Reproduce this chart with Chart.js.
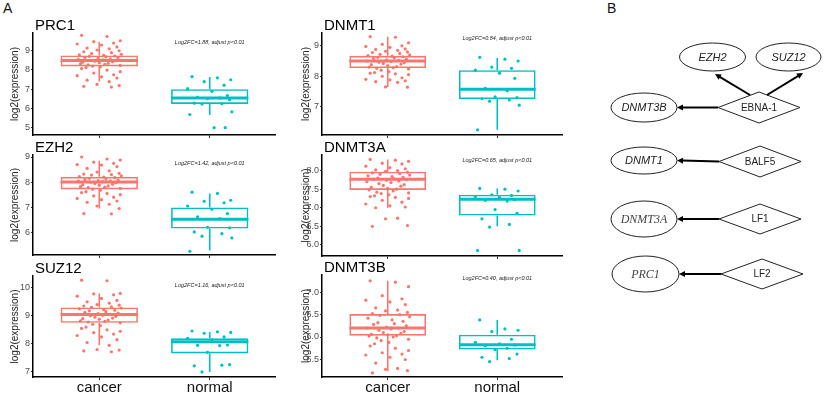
<!DOCTYPE html>
<html>
<head>
<meta charset="utf-8">
<script src="https://cdn.jsdelivr.net/npm/chart.js@4.4.0/dist/chart.umd.min.js"></script>
<style>
  body { margin: 0; background: #fff; width: 824px; height: 396px; overflow: hidden; position: relative; font-family: "Liberation Sans", Arial, sans-serif; }
  canvas { position: absolute; }
  .panel-label { position: absolute; font-size: 14px; line-height: 14px; color: #111; }
</style>
</head>
<body>
<div class="panel-label" style="left:3px;top:1px">A</div>
<div class="panel-label" style="left:607px;top:1px">B</div>
<script>
const groups = ['cancer', 'normal'];
const genes = ['PRC1', 'DNMT1', 'EZH2', 'DNMT3A', 'SUZ12', 'DNMT3B'];
const log2FC = ['1.88', '0.84', '1.42', '0.65', '1.16', '0.40'];

// box stats: [lower whisker, Q1, median, Q3, upper whisker]
const prc1CancerBox = [7.39, 8.17, 8.48, 8.74, 9.45];
const prc1NormalBox = [5.66, 6.23, 6.53, 6.99, 7.62];
const dnmt1CancerBox = [7.65, 8.27, 8.5, 8.67, 9.3];
const dnmt1NormalBox = [6.24, 7.25, 7.57, 8.2, 8.6];
const ezh2CancerBox = [6.95, 7.71, 8.01, 8.21, 8.85];
const ezh2NormalBox = [5.28, 6.15, 6.52, 6.99, 7.55];
const dnmt3aCancerBox = [7.0, 7.48, 7.77, 7.97, 8.3];
const dnmt3aNormalBox = [6.5, 6.79, 7.23, 7.35, 7.52];
const suz12CancerBox = [7.95, 8.75, 9.05, 9.3, 9.8];
const suz12NormalBox = [7.0, 7.66, 8.08, 8.2, 8.42];
const dnmt3bCancerBox = [5.24, 6.03, 6.2, 6.51, 7.25];
const dnmt3bNormalBox = [5.48, 5.72, 5.83, 6.05, 6.38];

// individual samples
const prc1Cancer = [9.78, 9.72, 9.5, 9.45, 9.38, 9.33, 9.28, 9.18, 9.12, 9.08, 9.02, 8.98, 8.93, 8.88, 8.84, 8.8, 8.77, 8.74, 8.71, 8.69, 8.66, 8.63, 8.61, 8.59, 8.56, 8.53, 8.51, 8.49, 8.47, 8.44, 8.41, 8.39, 8.36, 8.33, 8.31, 8.28, 8.25, 8.22, 8.19, 8.15, 8.11, 8.06, 7.98, 7.9, 7.83, 7.74, 7.69, 7.63, 7.57, 7.46, 7.38, 7.24, 7.18, 7.14, 7.1];
const prc1Normal = [7.64, 7.58, 7.48, 7.38, 7.2, 7.02, 6.88, 6.66, 6.57, 6.54, 6.5, 6.45, 6.27, 6.24, 6.22, 5.82, 5.68, 5.0, 5.0];
const dnmt1Cancer = [9.3, 9.28, 9.1, 9.05, 9.0, 8.98, 8.95, 8.9, 8.88, 8.85, 8.82, 8.8, 8.78, 8.75, 8.72, 8.7, 8.68, 8.66, 8.64, 8.62, 8.6, 8.58, 8.56, 8.54, 8.52, 8.5, 8.48, 8.46, 8.44, 8.42, 8.4, 8.38, 8.35, 8.32, 8.3, 8.28, 8.26, 8.24, 8.2, 8.15, 8.12, 8.1, 8.08, 8.05, 8.0, 7.95, 7.9, 7.88, 7.85, 7.82, 7.8, 7.65, 7.64];
const dnmt1Normal = [8.62, 8.56, 8.5, 8.3, 8.26, 8.2, 8.1, 7.93, 7.6, 7.52, 7.32, 7.3, 7.26, 7.22, 7.18, 7.05, 6.24];
const ezh2Cancer = [9.0, 8.92, 8.88, 8.8, 8.75, 8.7, 8.68, 8.62, 8.55, 8.45, 8.4, 8.35, 8.32, 8.3, 8.28, 8.25, 8.22, 8.2, 8.18, 8.15, 8.12, 8.1, 8.08, 8.06, 8.05, 8.04, 8.02, 8.0, 7.98, 7.95, 7.92, 7.9, 7.88, 7.85, 7.82, 7.8, 7.78, 7.75, 7.72, 7.68, 7.62, 7.58, 7.55, 7.5, 7.45, 7.4, 7.35, 7.3, 7.25, 7.2, 7.12, 7.05, 6.95, 6.75, 6.74];
const ezh2Normal = [7.6, 7.55, 7.28, 7.24, 7.18, 7.05, 6.92, 6.75, 6.62, 6.55, 6.2, 6.18, 6.02, 5.95, 5.85, 5.78, 5.25];
const dnmt3aCancer = [8.3, 8.28, 8.25, 8.2, 8.18, 8.12, 8.08, 8.05, 8.02, 8.0, 7.98, 7.96, 7.94, 7.92, 7.9, 7.88, 7.86, 7.84, 7.82, 7.8, 7.78, 7.77, 7.76, 7.74, 7.72, 7.7, 7.68, 7.65, 7.62, 7.6, 7.58, 7.55, 7.52, 7.5, 7.48, 7.45, 7.42, 7.4, 7.38, 7.35, 7.32, 7.3, 7.28, 7.25, 7.2, 7.15, 7.1, 7.05, 7.02, 7.0, 6.72, 6.7, 6.52, 6.5];
const dnmt3aNormal = [7.52, 7.5, 7.45, 7.35, 7.33, 7.3, 7.28, 7.22, 7.2, 7.18, 6.95, 6.85, 6.7, 6.55, 6.48, 5.85, 5.85];
const suz12Cancer = [10.27, 10.25, 9.8, 9.78, 9.75, 9.7, 9.62, 9.55, 9.5, 9.45, 9.4, 9.38, 9.35, 9.32, 9.3, 9.28, 9.25, 9.22, 9.2, 9.18, 9.15, 9.12, 9.1, 9.08, 9.05, 9.05, 9.02, 9.0, 8.98, 8.95, 8.92, 8.9, 8.88, 8.85, 8.82, 8.8, 8.78, 8.75, 8.7, 8.65, 8.6, 8.55, 8.5, 8.45, 8.4, 8.35, 8.3, 8.25, 8.15, 8.05, 7.95, 7.8, 7.78, 7.75, 7.72];
const suz12Normal = [8.46, 8.43, 8.41, 8.38, 8.25, 8.2, 8.14, 7.96, 7.95, 7.94, 7.7, 7.26, 7.22, 7.24, 7.0];
const dnmt3bCancer = [7.25, 7.22, 7.12, 6.92, 6.85, 6.82, 6.78, 6.72, 6.65, 6.6, 6.58, 6.55, 6.52, 6.5, 6.48, 6.45, 6.42, 6.38, 6.35, 6.32, 6.3, 6.28, 6.25, 6.22, 6.2, 6.2, 6.18, 6.15, 6.12, 6.1, 6.08, 6.06, 6.05, 6.03, 6.02, 6.0, 5.98, 5.95, 5.92, 5.88, 5.85, 5.8, 5.75, 5.7, 5.65, 5.62, 5.6, 5.55, 5.5, 5.42, 5.3, 5.28, 5.25, 5.2];
const dnmt3bNormal = [6.38, 6.18, 6.15, 6.12, 5.95, 5.88, 5.85, 5.82, 5.8, 5.75, 5.72, 5.62, 5.55, 5.52, 5.45];

// y tick labels and axis ranges
const prc1Ticks = ['5', '6', '7', '8', '9'];
const dnmt1Ticks = ['7', '8', '9'];
const ezh2Ticks = ['6', '7', '8', '9'];
const dnmt3aTicks = ['6.0', '6.5', '7.0', '7.5', '8.0'];
const suz12Ticks = ['7', '8', '9', '10'];
const dnmt3bTicks = ['5.5', '6.0', '6.5', '7.0'];
const yRanges = [[4.62, 9.9], [6.07, 9.42], [5.1, 9.08], [5.7, 8.42], [6.82, 10.42], [5.11, 7.38]];

// panel B network
const viralProteins = ['EBNA-1', 'BALF5', 'LF1', 'LF2'];
const targetGenes = ['EZH2', 'SUZ12', 'DNMT3B', 'DNMT1', 'DNMT3A', 'PRC1'];
const regulations = [['EBNA-1', 'EZH2'], ['EBNA-1', 'SUZ12'], ['EBNA-1', 'DNMT3B'], ['BALF5', 'DNMT1'], ['LF1', 'DNMT3A'], ['LF2', 'PRC1']];

const panelData = [
  { cancer: prc1Cancer, normal: prc1Normal, boxes: [prc1CancerBox, prc1NormalBox], ticks: prc1Ticks },
  { cancer: dnmt1Cancer, normal: dnmt1Normal, boxes: [dnmt1CancerBox, dnmt1NormalBox], ticks: dnmt1Ticks },
  { cancer: ezh2Cancer, normal: ezh2Normal, boxes: [ezh2CancerBox, ezh2NormalBox], ticks: ezh2Ticks },
  { cancer: dnmt3aCancer, normal: dnmt3aNormal, boxes: [dnmt3aCancerBox, dnmt3aNormalBox], ticks: dnmt3aTicks },
  { cancer: suz12Cancer, normal: suz12Normal, boxes: [suz12CancerBox, suz12NormalBox], ticks: suz12Ticks },
  { cancer: dnmt3bCancer, normal: dnmt3bNormal, boxes: [dnmt3bCancerBox, dnmt3bNormalBox], ticks: dnmt3bTicks }
];

// where each panel sits on the page
const frames = [
  { left: 0, top: 12, w: 276, h: 131, axisW: 33, padTop: 21, xH: 8, titlePad: 9.5, noteDy: 9 },
  { left: 294, top: 12, w: 269, h: 131, axisW: 28, padTop: 21, xH: 8, titlePad: 6, noteDy: 5 },
  { left: 0, top: 136, w: 276, h: 127, axisW: 33, padTop: 19, xH: 8, titlePad: 9.5, noteDy: 8 },
  { left: 294, top: 136, w: 269, h: 128, axisW: 28, padTop: 19, xH: 8, titlePad: 6, noteDy: 5 },
  { left: 0, top: 258, w: 276, h: 138, axisW: 33, padTop: 18, xH: 19, titlePad: 9.5, noteDy: 9 },
  { left: 294, top: 258, w: 269, h: 138, axisW: 28, padTop: 17, xH: 19, titlePad: 6, noteDy: 3 }
];

const JITTER = [-0.16, 0.07, 0.19, -0.05, 0.13, -0.2, 0.02, 0.16, -0.11, 0.09, -0.02, 0.18, -0.14, 0.11, -0.07, 0.2, -0.18, 0.04, 0.14, -0.09, 0.06, -0.13, 0.17, -0.01, 0.1, -0.19, 0.03, -0.08, 0.15, -0.04, 0.12, -0.15, 0.0, 0.08, -0.17, 0.05, -0.1, 0.19, -0.06, 0.01, -0.12];
const colores = ['#F8766D', '#00BFC4'];
const FONT = '"Liberation Sans", Arial, sans-serif';

Chart.defaults.font.family = FONT;
Chart.defaults.animation = false;

const makeCanvas = (f) => {
  const c = document.createElement('canvas');
  c.width = f.w;
  c.height = f.h;
  c.style.left = f.left + 'px';
  c.style.top = f.top + 'px';
  c.style.width = f.w + 'px';
  c.style.height = f.h + 'px';
  document.body.appendChild(c);
  return c;
};

const jitterPoints = (vals, k) => vals.map((v, i) => ({ x: k + JITTER[i % JITTER.length], y: v }));

const boxPlugin = (boxes, gene, fc, f) => ({
  id: 'boxExtras',
  afterDatasetDraw(chart, args) {
    if (args.index !== 0) return;
    const { ctx, scales: { x, y } } = chart;
    ctx.save();
    boxes.forEach((b, k) => {
      const px = x.getPixelForValue(k + 1);
      const half = x.getPixelForValue(k + 1.35) - px;
      ctx.strokeStyle = colores[k];
      ctx.lineWidth = 1.6;
      ctx.beginPath();
      ctx.moveTo(px, y.getPixelForValue(b[0]));
      ctx.lineTo(px, y.getPixelForValue(b[1]));
      ctx.moveTo(px, y.getPixelForValue(b[3]));
      ctx.lineTo(px, y.getPixelForValue(b[4]));
      ctx.stroke();
      ctx.lineWidth = 3;
      ctx.beginPath();
      ctx.moveTo(px - half, y.getPixelForValue(b[2]));
      ctx.lineTo(px + half, y.getPixelForValue(b[2]));
      ctx.stroke();
    });
    ctx.restore();
  },
  afterDraw(chart) {
    const { ctx, chartArea, scales: { x } } = chart;
    ctx.save();
    ctx.fillStyle = '#000';
    ctx.font = '15px ' + FONT;
    ctx.textBaseline = 'alphabetic';
    ctx.textAlign = 'left';
    ctx.fillText(gene, chartArea.left + 2, chartArea.top - 3);
    ctx.font = 'italic 5.5px ' + FONT;
    ctx.fillStyle = '#222';
    ctx.textAlign = 'center';
    ctx.textBaseline = 'middle';
    ctx.fillText(`Log2FC=${fc}, adjust p<0.01`, x.getPixelForValue(2), chartArea.top + f.noteDy);
    ctx.restore();
  }
});

genes.forEach((gene, i) => {
  const f = frames[i];
  const d = panelData[i];
  const bottomRow = i >= 4;
  new Chart(makeCanvas(f), {
    type: 'scatter',
    data: {
      datasets: [
        {
          type: 'bar',
          data: d.boxes.map((b, k) => ({ x: k + 1, y: [b[1], b[3]] })),
          borderColor: colores,
          backgroundColor: 'rgba(255,255,255,0)',
          borderWidth: 1.6,
          borderSkipped: false,
          barPercentage: 0.7,
          categoryPercentage: 1,
          order: 2
        },
        { data: jitterPoints(d.cancer, 1), backgroundColor: colores[0], pointRadius: 1.6, borderWidth: 0, order: 1 },
        { data: jitterPoints(d.normal, 2), backgroundColor: colores[1], pointRadius: 1.6, borderWidth: 0, order: 1 }
      ]
    },
    options: {
      responsive: false,
      events: [],
      layout: { autoPadding: false, padding: { top: f.padTop, left: 0, right: 0, bottom: 0 } },
      plugins: { legend: { display: false }, tooltip: { enabled: false } },
      scales: {
        x: {
          type: 'linear',
          min: 0.4,
          max: 2.6,
          offset: false,
          afterBuildTicks: s => { s.ticks = groups.map((g, k) => ({ value: k + 1 })); },
          afterFit: s => { s.height = f.xH; },
          ticks: {
            display: bottomRow,
            autoSkip: false,
            maxRotation: 0,
            padding: 0,
            color: '#111',
            font: { size: 15, lineHeight: 1 },
            callback: (v) => groups[Math.round(v) - 1]
          },
          grid: { offset: false, drawOnChartArea: false, tickLength: 3, color: '#333' },
          border: { color: '#000', width: 1.5 }
        },
        y: {
          min: yRanges[i][0],
          max: yRanges[i][1],
          afterBuildTicks: s => { s.ticks = d.ticks.map(t => ({ value: Number(t) })); },
          afterFit: s => { s.width = f.axisW; },
          ticks: {
            autoSkip: false,
            padding: 1,
            color: '#4d4d4d',
            font: { size: 9 },
            callback: (v, idx) => d.ticks[idx]
          },
          grid: { drawOnChartArea: false, tickLength: 2, color: '#333' },
          border: { color: '#000', width: 1.5 },
          title: {
            display: true,
            text: 'log2(expression)',
            color: '#222',
            font: { size: 10 },
            padding: { top: f.titlePad, bottom: 0 }
          }
        }
      }
    },
    plugins: [boxPlugin(d.boxes, gene, log2FC[i], f)]
  });
});

// ---- panel B ----
const nodePos = {
  'EZH2': [712.5, 57], 'SUZ12': [788.5, 57], 'DNMT3B': [644, 107.5], 'DNMT1': [644, 160.5],
  'DNMT3A': [644, 219], 'PRC1': [645.5, 274],
  'EBNA-1': [759, 107.5], 'BALF5': [760, 161.5], 'LF1': [760, 219], 'LF2': [762, 274]
};
const nodeSize = {
  'EZH2': [33, 14], 'SUZ12': [32.5, 14], 'DNMT3B': [33, 14.5], 'DNMT1': [33, 13.5],
  'DNMT3A': [33, 18], 'PRC1': [33.5, 18],
  'EBNA-1': [41, 15.5], 'BALF5': [41, 15.5], 'LF1': [41, 15], 'LF2': [41, 15]
};
const serifGenes = ['DNMT3A', 'PRC1'];
const edgeRoutes = {
  'EZH2': { from: [750, 95], to: [715, 74] },
  'SUZ12': { from: [767, 95], to: [803, 73] }
};

const frameB = { left: 600, top: 0, w: 224, h: 300 };

const diagramPlugin = {
  id: 'diagram',
  afterDatasetsDraw(chart) {
    const { ctx, scales: { x, y } } = chart;
    const px = p => [x.getPixelForValue(p[0]), y.getPixelForValue(p[1])];
    ctx.save();
    ctx.lineWidth = 1;
    ctx.strokeStyle = '#222';
    targetGenes.forEach(g => {
      const [cx, cy] = px(nodePos[g]);
      const [rx, ry] = nodeSize[g];
      ctx.beginPath();
      ctx.ellipse(cx, cy, rx, ry, 0, 0, Math.PI * 2);
      ctx.fillStyle = '#fff';
      ctx.fill();
      ctx.stroke();
      ctx.fillStyle = serifGenes.includes(g) ? '#444' : '#222';
      ctx.font = serifGenes.includes(g) ? 'italic 12px "Liberation Serif", serif' : 'italic 11px ' + FONT;
      ctx.textAlign = 'center';
      ctx.textBaseline = 'middle';
      ctx.fillText(g, cx, cy + 0.5);
    });
    viralProteins.forEach(v => {
      const [cx, cy] = px(nodePos[v]);
      const [hw, hh] = nodeSize[v];
      ctx.beginPath();
      ctx.moveTo(cx - hw, cy);
      ctx.lineTo(cx, cy - hh);
      ctx.lineTo(cx + hw, cy);
      ctx.lineTo(cx, cy + hh);
      ctx.closePath();
      ctx.fillStyle = '#fff';
      ctx.fill();
      ctx.stroke();
      ctx.fillStyle = '#222';
      ctx.font = '10px ' + FONT;
      ctx.textAlign = 'center';
      ctx.textBaseline = 'middle';
      ctx.fillText(v, cx, cy + 0.5);
    });
    // arrows
    ctx.strokeStyle = '#000';
    ctx.fillStyle = '#000';
    ctx.lineWidth = 2;
    regulations.forEach(([src, tgt]) => {
      let a, b;
      if (edgeRoutes[tgt]) {
        a = px(edgeRoutes[tgt].from);
        b = px(edgeRoutes[tgt].to);
      } else {
        const s = px(nodePos[src]);
        const t = px(nodePos[tgt]);
        a = [s[0] - nodeSize[src][0], s[1]];
        b = [t[0] + nodeSize[tgt][0], t[1]];
      }
      const ang = Math.atan2(b[1] - a[1], b[0] - a[0]);
      const len = 6;
      ctx.beginPath();
      ctx.moveTo(a[0], a[1]);
      ctx.lineTo(b[0] - Math.cos(ang) * (len - 1), b[1] - Math.sin(ang) * (len - 1));
      ctx.stroke();
      ctx.beginPath();
      ctx.moveTo(b[0], b[1]);
      ctx.lineTo(b[0] - Math.cos(ang) * len - Math.sin(ang) * 3, b[1] - Math.sin(ang) * len + Math.cos(ang) * 3);
      ctx.lineTo(b[0] - Math.cos(ang) * len + Math.sin(ang) * 3, b[1] - Math.sin(ang) * len - Math.cos(ang) * 3);
      ctx.closePath();
      ctx.fill();
    });
    ctx.restore();
  }
};

new Chart(makeCanvas(frameB), {
  type: 'scatter',
  data: {
    datasets: [{
      data: [...targetGenes, ...viralProteins].map(n => ({ x: nodePos[n][0], y: nodePos[n][1] })),
      pointRadius: 0
    }]
  },
  options: {
    responsive: false,
    events: [],
    layout: { autoPadding: false, padding: 0 },
    plugins: { legend: { display: false }, tooltip: { enabled: false } },
    scales: {
      x: { display: false, min: frameB.left, max: frameB.left + frameB.w },
      y: { display: false, reverse: true, min: frameB.top, max: frameB.top + frameB.h }
    }
  },
  plugins: [diagramPlugin]
});
</script>
</body>
</html>
